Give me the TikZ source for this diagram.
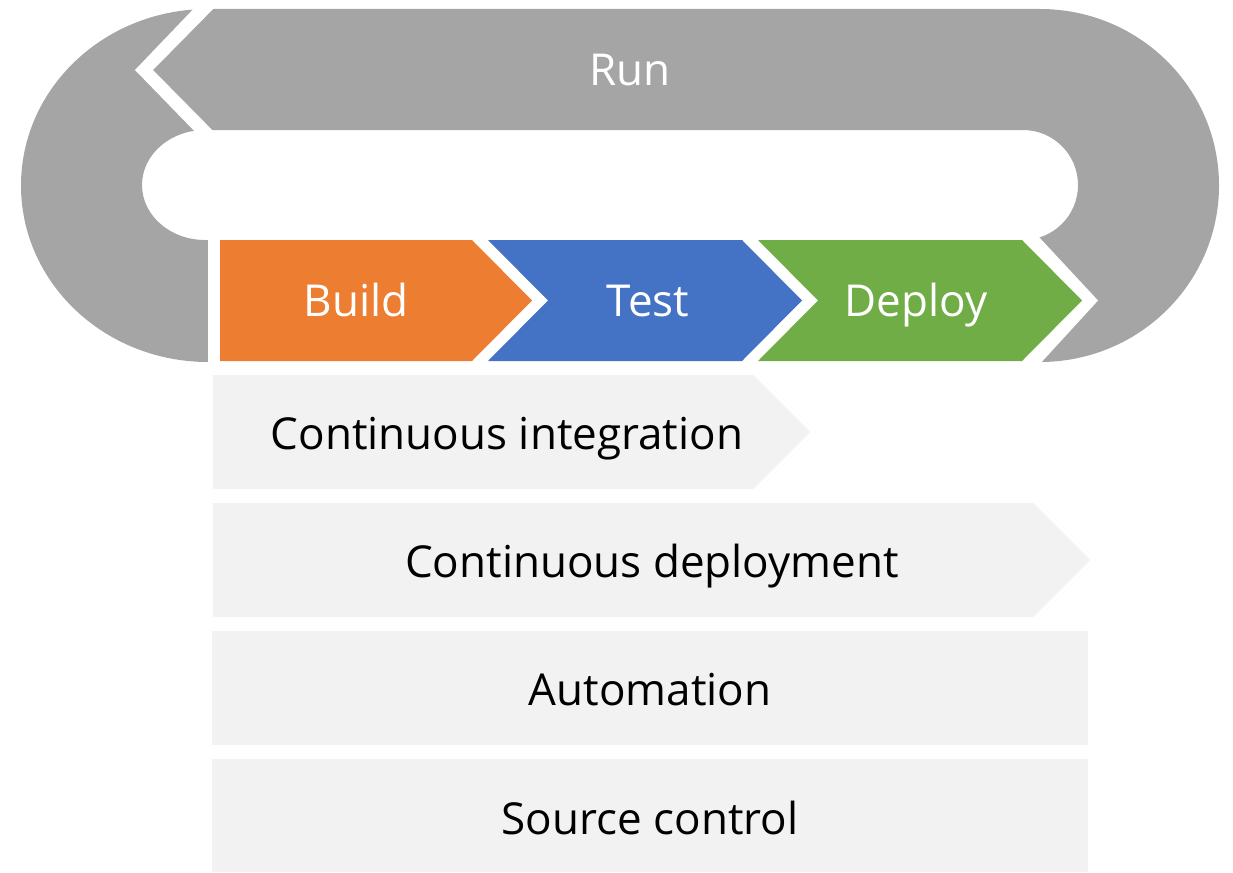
\documentclass[tikz,border=0pt]{standalone}
\usepackage{fontspec}
\setmainfont{Open Sans}
\definecolor{loopgray}{HTML}{A5A5A5}
\definecolor{buildorange}{HTML}{ED7D31}
\definecolor{testblue}{HTML}{4472C4}
\definecolor{deploygreen}{HTML}{70AD47}
\definecolor{layergray}{HTML}{F2F2F2}
\tikzset{
  lbl/.style={font=\fontsize{44}{52}\selectfont, inner sep=0pt, anchor=base},
  stagelbl/.style={lbl, text=white},
  layerlbl/.style={lbl, text=black},
}
\begin{document}
\begin{tikzpicture}[x=1pt,y=-1pt]
\useasboundingbox (0,0) rectangle (1233,872);

% grey loop: outer stadium minus inner stadium
\fill[loopgray, even odd rule]
  (208,9) -- (1040,9)
    arc[start angle=-90, end angle=90, x radius=179, y radius=176.5]
  -- (208,362)
    arc[start angle=90, end angle=270, x radius=187, y radius=176.5]
  -- cycle
  (205,130) -- (1023,130)
    arc[start angle=-90, end angle=90, x radius=55, y radius=55]
  -- (205,240)
    arc[start angle=90, end angle=270, x radius=63, y radius=55]
  -- cycle;

% white notch that turns the top band into the "Run" arrow
\fill[white] (202,0) -- (135,70) -- (203,140) -- (222,140) -- (153,70) -- (222,0) -- cycle;

% white cut for the stage band at the bottom of the loop
\fill[white] (208,236) -- (1038,236) -- (1098,300.5) -- (1038,366) -- (208,366) -- cycle;

% stage chevrons
\fill[buildorange] (220,240) -- (472,240) -- (532,300.5) -- (472,361) -- (220,361) -- cycle;
\fill[testblue] (488,240) -- (742,240) -- (802,300.5) -- (742,361) -- (488,361) -- (548,300.5) -- cycle;
\fill[deploygreen] (758,240) -- (1022,240) -- (1082,300.5) -- (1022,361) -- (758,361) -- (818,300.5) -- cycle;

% layers below
\fill[layergray] (213,375) -- (753,375) -- (810,432) -- (753,489) -- (213,489) -- cycle;
\fill[layergray] (213,503) -- (1033,503) -- (1090,560) -- (1033,617) -- (213,617) -- cycle;
\fill[layergray] (212,631) rectangle (1088,745);
\fill[layergray] (212,759) rectangle (1088,872);

% labels (placed on their baselines)
\node[stagelbl] (run) at (630,86) {Run};
\node[stagelbl] (build) at (356,316.5) {Build};
\node[stagelbl] (test) at (648,316.5) {Test};
\node[stagelbl] (deploy) at (916,316.5) {Deploy};
\node[layerlbl] (ci) at (507,449.5) {Continuous integration};
\node[layerlbl] (cd) at (652,577.5) {Continuous deployment};
\node[layerlbl] (auto) at (650,705.5) {Automation};
\node[layerlbl] (src) at (650,834) {Source control};
\end{tikzpicture}
\end{document}
